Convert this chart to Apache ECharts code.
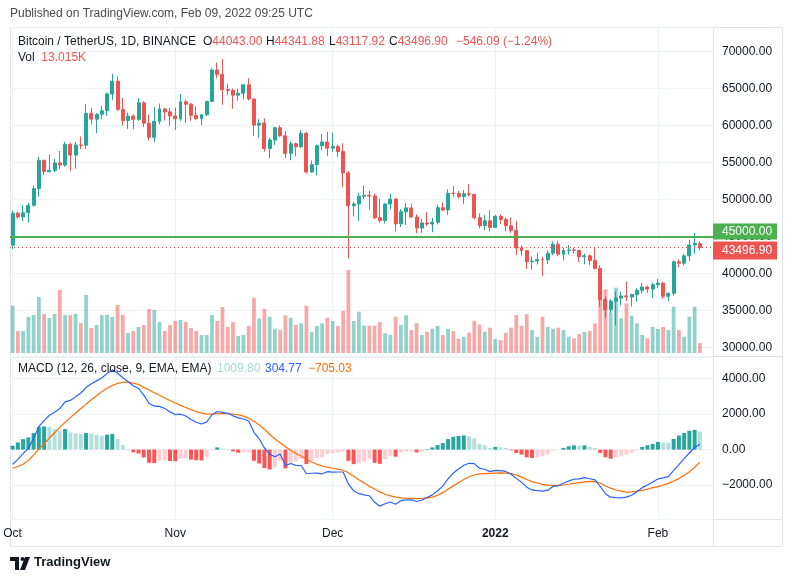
<!DOCTYPE html>
<html>
<head>
<meta charset="utf-8">
<title>Bitcoin / TetherUS 1D</title>
<script src="https://cdn.jsdelivr.net/npm/echarts@6/dist/echarts.min.js"></script>
<style>
  html, body { margin: 0; padding: 0; background: #fff; }
  #main { width: 793px; height: 582px; }
</style>
</head>
<body>
<div id="main"></div>
<script>
// daily candles, 2021-10-01 .. 2022-02-09 (132 days), two empty slots after
var slotCount = 134;
var monthLabels = { '2021-10-01': 'Oct', '2021-11-01': 'Nov', '2021-12-01': 'Dec', '2022-01-01': '2022', '2022-02-01': 'Feb' };

var opens = [
  43820,48141,47634,48200,49224,51471,55315,53785,53951,54949,54659,57471,56005,57367,57347,61672,60875,61528,62009,64280,66001,62193,60688,61286,60852,63078,60328,58413,60575,62253,61859,
  61299,60911,63219,62896,61395,60937,61470,63273,67525,66947,64882,64774,64122,64380,65519,63606,60058,60344,56891,58052,59707,58622,56247,57541,57138,58960,53726,54721,57274,57776,
  56950,57185,56484,53601,49152,49397,50441,50588,50471,47535,47140,49389,50053,46702,48336,48864,47632,46131,46834,46681,46914,48887,48588,50838,50820,50400,50775,50701,47543,46464,47120,
  46216,47722,47286,46446,45832,43451,43082,41566,41679,41864,41822,42736,43946,42592,43099,43177,43114,42250,42375,41744,40680,36445,35071,36244,36660,36958,36809,37160,37716,38166,37881,
  38466,38694,36896,37311,41571,41382,42380,43840,44043
];
var highs = [
  48495,48336,49228,49536,51887,55750,55332,56100,55489,56561,57839,57680,57777,58532,62933,62378,61718,62695,64486,67000,66639,63732,61747,61500,63710,63293,61496,62499,62980,62359,62405,
  62437,64270,63500,63086,62595,61560,63286,67789,68530,69000,65600,65000,64989,65550,66401,63617,60840,60976,58373,59845,60029,59266,57875,57700,59398,59150,55281,57445,58865,59176,
  59053,57375,57600,53859,49699,50891,51936,51200,50797,50125,49485,50777,50189,48700,49500,49436,47995,47392,48300,47537,49328,49576,51375,51810,51156,51280,52088,50704,48139,47900,48548,
  47954,47990,47570,47557,47070,43816,43145,42304,42786,42248,43100,44322,44459,43448,43800,43476,43179,42691,42579,43505,41100,36835,36499,37550,37545,38919,37234,38000,38720,38359,38744,
  39265,38855,37387,41772,41913,42656,44500,45492,44341.88
];
var lows = [
  43283,47430,47088,46891,49022,50382,53357,53617,53661,54080,54415,53879,54167,56818,56850,60150,58963,60880,61322,63481,62000,60000,59562,59510,60650,59817,58000,57820,60174,60673,59945,
  59405,60624,60382,60677,60721,60050,61322,63273,66382,62822,64100,62278,63360,63576,63400,58574,58373,56474,55600,57353,58486,55610,55317,55837,57000,53500,53610,53256,56666,55875,
  56458,55777,51680,42000,47727,47100,50039,48600,47320,46852,46751,48638,45672,46290,46547,47511,45456,45500,46406,45558,46630,48421,47920,50384,50142,49412,50449,47313,46096,45900,45678,
  46208,46654,45696,45500,42500,42430,40610,40501,41200,39650,41268,42450,42311,41726,42555,42691,41540,41250,41138,40553,35440,34008,34602,32917,35701,36234,35507,36155,37268,37351,36632,
  38000,36586,36250,37026,40843,41116,41645,42666,43117.92
];
var closes = [
  48141,47634,48200,49224,51471,55315,53785,53951,54949,54659,57471,56005,57367,57347,61672,60875,61528,62009,64280,66001,62193,60688,61286,60852,63078,60328,58413,60575,62253,61859,61299,
  60911,63219,62896,61395,60937,61470,63273,67525,66947,64882,64774,64122,64380,65519,63606,60058,60344,56891,58052,59707,58622,56247,57541,57138,58960,53726,54721,57274,57776,56950,
  57185,56481,53601,49152,49397,50441,50588,50471,47545,47140,49389,50053,46702,48343,48864,47632,46131,46834,46681,46914,48889,48588,50838,50820,50400,50775,50701,47543,46464,47120,46216,
  47722,47286,46446,45832,43451,43082,41566,41679,41864,41822,42736,43946,42592,43099,43177,43114,42250,42375,41744,40680,36445,35071,36244,36660,36958,36809,37160,37716,38166,37881,38466,
  38694,36896,37311,41574,41382,42380,43840,44043,43496.90
];
// volume, thousands of BTC
var volumes = [
  61.5,28.6,28.6,46.8,49.4,72.8,50.7,45.5,50.7,81.9,49.4,49.4,50.7,39.0,75.4,32.5,36.4,49.4,49.4,46.8,62.4,49.4,26.0,28.6,33.8,36.4,57.2,55.9,40.3,28.6,36.4,
  41.6,42.9,40.3,32.5,28.6,23.4,23.4,49.4,41.6,59.8,33.8,40.3,22.1,23.4,35.1,71.9,45.1,57.6,47.2,31.6,29.9,49.0,45.9,36.4,38.6,61.5,27.3,35.1,38.6,45.9,
  41.6,35.1,55.0,107.9,41.6,53.7,35.5,35.5,35.5,40.3,25.6,23.4,47.2,36.4,49.0,29.9,38.6,23.4,27.3,31.6,35.1,23.4,31.6,28.6,18.6,21.2,26.4,41.6,36.8,27.7,32.9,
  18.2,16.9,26.4,32.9,49.4,35.5,50.7,29.9,21.2,47.2,33.8,31.6,32.9,29.9,21.2,19.1,24.7,27.3,28.6,38.6,94.9,82.8,52.4,84.9,45.1,64.6,48.5,38.6,23.4,19.1,33.8,
  31.2,33.8,29.9,60.2,29.9,21.2,47.2,60.2,13.015
];
var macdLine = [
  -834,-546,-228,66,630,1300,1630,1930,2105,2310,2685,2768,2972,3184,3490,3700,3866,4030,4286,4484,4312,4044,3820,3590,3440,3060,2608,2440,2430,2310,2120,
  1970,1990,1890,1690,1540,1440,1560,1960,2144,2090,2040,1900,1785,1720,1610,970,610,90,-255,-405,-250,-900,-782,-885,-895,-1357,-1330,-1320,-1360,-1243,
  -1265,-1260,-1260,-1930,-2317,-2480,-2545,-2595,-2962,-3180,-3045,-2947,-3070,-2870,-2830,-2825,-2920,-2850,-2690,-2546,-2316,-2054,-1638,-1320,-1090,-880,-770,-790,-1051,-1106,-1241,
  -1170,-1179,-1226,-1388,-1618,-1832,-2112,-2270,-2312,-2336,-2282,-2071,-2035,-1896,-1762,-1665,-1645,-1580,-1640,-1706,-2068,-2482,-2677,-2702,-2716,-2672,-2568,-2368,-2140,-1986,
  -1821,-1648,-1590,-1520,-1169,-841,-511,-190,118,304.77
];
var signalLine = [
  -1050,-950,-820,-620,-300,30,330,650,950,1250,1530,1800,2060,2310,2560,2800,3030,3250,3450,3610,3720,3790,3790,3740,3660,3500,3350,3200,3060,2900,2760,
  2620,2490,2370,2250,2140,2050,2000,2000,2020,2030,2020,2000,1960,1880,1760,1600,1390,1130,860,600,380,160,-40,-220,-360,-540,-700,-820,-920,-990,
  -1050,-1110,-1160,-1300,-1500,-1700,-1880,-2060,-2220,-2380,-2510,-2600,-2670,-2710,-2730,-2745,-2760,-2750,-2720,-2670,-2570,-2420,-2230,-2040,-1860,-1680,-1530,-1430,-1370,-1350,-1335,
  -1320,-1310,-1320,-1350,-1430,-1550,-1680,-1800,-1880,-1960,-2000,-2015,-2015,-1990,-1950,-1900,-1860,-1820,-1790,-1800,-1880,-2050,-2170,-2270,-2340,-2390,-2380,-2330,-2290,-2230,
  -2140,-2080,-1990,-1900,-1770,-1630,-1450,-1250,-990,-705.03
];
var histogram = [
  216,404,592,686,930,1270,1300,1280,1155,1060,1155,968,912,874,930,900,836,780,836,874,592,254,30,-150,-220,-440,-742,-760,-630,-590,-640,
  -650,-500,-480,-560,-600,-610,-440,-40,124,60,20,-100,-175,-160,-150,-630,-780,-1040,-1115,-1005,-630,-1060,-742,-665,-535,-817,-630,-500,-440,-253,
  -215,-150,-100,-630,-817,-780,-665,-535,-742,-800,-535,-347,-400,-160,-100,-80,-160,-100,30,124,254,366,592,720,770,800,760,640,319,244,94,
  150,131,94,-38,-188,-282,-432,-470,-432,-376,-282,-56,-20,94,188,235,215,240,150,94,-188,-432,-507,-432,-376,-282,-188,-38,150,244,
  319,432,400,380,601,789,939,1060,1108,1009.80
];
var levelLine = 45000;
var lastPrice = 43496.90;

var UP = '#26a69a', DOWN = '#ef5350';
var FONT = '"Liberation Sans", Arial, sans-serif';
var TXT = '#131722';

var dates = [];
var t0 = Date.UTC(2021, 9, 1);
for (var i = 0; i < slotCount; i++) {
  dates.push(new Date(t0 + i * 86400000).toISOString().slice(0, 10));
}

var candleData = [];
var volData = [];
for (var i = 0; i < closes.length; i++) {
  candleData.push([opens[i], closes[i], lows[i], highs[i]]);
  volData.push({
    value: volumes[i],
    itemStyle: { color: closes[i] >= opens[i] ? 'rgba(38,166,154,0.5)' : 'rgba(239,83,80,0.5)' }
  });
}

// tradingview style histogram colours
var histData = histogram.map(function (h, i) {
  var prev = i > 0 ? histogram[i - 1] : -Infinity;
  var c;
  if (h >= 0) c = prev < h ? '#26a69a' : '#b2dfdb';
  else c = prev < h ? '#ffcdd2' : '#ff5252';
  return { value: h, itemStyle: { color: c } };
});

var monthLines = Object.keys(monthLabels).map(function (d) {
  return { xAxis: d };
});

function fmt2(v) {
  return (v < 0 ? '\u2212' : '') + Math.abs(v).toFixed(2);
}

function catAxis(gi, labels) {
  return {
    type: 'category', gridIndex: gi, data: dates, boundaryGap: true,
    axisLine: { show: false }, axisTick: { show: false }, splitLine: { show: false },
    axisLabel: labels ? {
      show: true, margin: 9, color: TXT, fontSize: 12, fontFamily: FONT,
      interval: function (idx, val) { return monthLabels[val] !== undefined; },
      formatter: function (val) {
        var t = monthLabels[val];
        return t === '2022' ? '{b|2022}' : t;
      },
      rich: { b: { fontWeight: 'bold', fontSize: 12, color: TXT, fontFamily: FONT } }
    } : { show: false }
  };
}

var chart = echarts.init(document.getElementById('main'), null, { renderer: 'canvas' });

var frame = '#e0e3eb';
var option = {
  animation: false,
  backgroundColor: '#ffffff',
  grid: [
    { left: 10, right: 80, top: 27, height: 329 },
    { left: 10, right: 80, top: 27, height: 326 },
    { left: 10, right: 80, top: 357, height: 162 }
  ],
  xAxis: [catAxis(0, false), catAxis(1, false), catAxis(2, true)],
  yAxis: [
    {
      type: 'value', gridIndex: 0, position: 'right', min: 28823, max: 73342,
      minInterval: 5000, maxInterval: 5000,
      axisLine: { show: false }, axisTick: { show: false },
      splitLine: { lineStyle: { color: '#eef1f6', width: 1 } },
      axisLabel: {
        margin: 9, color: TXT, fontSize: 12, fontFamily: FONT,
        formatter: function (v) { return v % 5000 === 0 ? fmt2(v) : ''; }
      }
    },
    { type: 'value', gridIndex: 1, min: 0, max: 423.8, show: false, splitLine: { show: false } },
    {
      type: 'value', gridIndex: 2, position: 'right', min: -3903, max: 5208,
      minInterval: 2000, maxInterval: 2000,
      axisLine: { show: false }, axisTick: { show: false },
      splitLine: { lineStyle: { color: '#eef1f6', width: 1 } },
      axisLabel: {
        margin: 9, color: TXT, fontSize: 12, fontFamily: FONT,
        formatter: function (v) { return v % 2000 === 0 ? fmt2(v) : ''; }
      }
    }
  ],
  series: [
    {
      name: 'Vol', type: 'bar', xAxisIndex: 1, yAxisIndex: 1, data: volData,
      barWidth: '72%', z: 2,
      markLine: {
        silent: true, symbol: ['none', 'none'], z: 1, animation: false,
        label: { show: false },
        lineStyle: { color: '#eef1f6', width: 1, type: 'solid' },
        data: monthLines
      }
    },
    {
      name: 'BTCUSDT', type: 'candlestick', xAxisIndex: 0, yAxisIndex: 0, data: candleData,
      barWidth: '66%', z: 3,
      itemStyle: { color: UP, color0: DOWN, borderColor: UP, borderColor0: DOWN, borderWidth: 1 },
      markLine: {
        silent: true, symbol: ['none', 'none'], z: 6, animation: false,
        data: [
          {
            yAxis: levelLine,
            lineStyle: { color: '#4caf50', width: 2, type: 'solid' },
            label: {
              show: true, position: 'end', distance: 0, offset: [0, -5],
              formatter: fmt2(levelLine), color: '#fff', backgroundColor: '#4caf50',
              padding: [2, 5, 2, 9], fontSize: 12, fontFamily: FONT
            }
          },
          {
            yAxis: lastPrice,
            lineStyle: { color: '#ef5350', width: 1, type: [1, 3] },
            label: {
              show: true, position: 'end', distance: 0, offset: [0, 3],
              formatter: fmt2(lastPrice), color: '#fff', backgroundColor: '#ef5350',
              padding: [3, 5, 3, 9], fontSize: 12, fontFamily: FONT
            }
          }
        ]
      }
    },
    {
      name: 'Histogram', type: 'bar', xAxisIndex: 2, yAxisIndex: 2, data: histData,
      barWidth: '76%', z: 2,
      markLine: {
        silent: true, symbol: ['none', 'none'], z: 1, animation: false,
        label: { show: false },
        lineStyle: { color: '#eef1f6', width: 1, type: 'solid' },
        data: monthLines
      }
    },
    {
      name: 'MACD', type: 'line', xAxisIndex: 2, yAxisIndex: 2, data: macdLine,
      showSymbol: false, lineStyle: { color: '#2962ff', width: 1.2 }, z: 4
    },
    {
      name: 'Signal', type: 'line', xAxisIndex: 2, yAxisIndex: 2, data: signalLine,
      showSymbol: false, lineStyle: { color: '#ff6d00', width: 1.2 }, z: 3
    }
  ],
  graphic: [
    { type: 'text', left: 10, top: 8, style: { text: 'Published on TradingView.com, Feb 09, 2022 09:25 UTC', fill: '#4a4a4a', font: '12px ' + FONT } },
    // frame
    { type: 'line', shape: { x1: 10, y1: 27.5, x2: 783, y2: 27.5 }, style: { stroke: frame, lineWidth: 1 } },
    { type: 'line', shape: { x1: 10.5, y1: 27, x2: 10.5, y2: 547 }, style: { stroke: frame, lineWidth: 1 } },
    { type: 'line', shape: { x1: 782.5, y1: 27, x2: 782.5, y2: 547 }, style: { stroke: frame, lineWidth: 1 } },
    { type: 'line', shape: { x1: 10, y1: 546.5, x2: 783, y2: 546.5 }, style: { stroke: frame, lineWidth: 1 } },
    { type: 'line', shape: { x1: 713.5, y1: 27, x2: 713.5, y2: 547 }, style: { stroke: frame, lineWidth: 1 } },
    { type: 'line', shape: { x1: 10, y1: 356.5, x2: 783, y2: 356.5 }, style: { stroke: '#d9dce3', lineWidth: 1 } },
    { type: 'line', shape: { x1: 10, y1: 519.5, x2: 783, y2: 519.5 }, style: { stroke: frame, lineWidth: 1 } },
    // legends
    {
      type: 'text', left: 18, top: 36, z: 10,
      style: {
        text: 'Bitcoin / TetherUS, 1D, BINANCE', fill: TXT, font: '12px ' + FONT
      }
    },
    { type: 'text', left: 203, top: 36, z: 10, style: { text: '{k|O}{v|44043.00}', rich: { k: { fill: TXT, font: '12px ' + FONT }, v: { fill: DOWN, font: '12px ' + FONT } } } },
    { type: 'text', left: 266, top: 36, z: 10, style: { text: '{k|H}{v|44341.88}', rich: { k: { fill: TXT, font: '12px ' + FONT }, v: { fill: DOWN, font: '12px ' + FONT } } } },
    { type: 'text', left: 329, top: 36, z: 10, style: { text: '{k|L}{v|43117.92}', rich: { k: { fill: TXT, font: '12px ' + FONT }, v: { fill: DOWN, font: '12px ' + FONT } } } },
    { type: 'text', left: 389, top: 36, z: 10, style: { text: '{k|C}{v|43496.90}', rich: { k: { fill: TXT, font: '12px ' + FONT }, v: { fill: DOWN, font: '12px ' + FONT } } } },
    { type: 'text', left: 456, top: 36, z: 10, style: { text: '\u2212546.09 (\u22121.24%)', fill: DOWN, font: '12px ' + FONT } },
    { type: 'text', left: 18, top: 52, z: 10, style: { text: '{k|Vol}  {v|13.015K}', rich: { k: { fill: TXT, font: '12px ' + FONT }, v: { fill: DOWN, font: '12px ' + FONT } } } },
    { type: 'text', left: 18, top: 363, z: 10, style: { text: 'MACD (12, 26, close, 9, EMA, EMA)', fill: TXT, font: '12px ' + FONT } },
    { type: 'text', left: 217, top: 363, z: 10, style: { text: '1009.80', fill: '#a8d9d2', font: '12px ' + FONT } },
    { type: 'text', left: 265, top: 363, z: 10, style: { text: '304.77', fill: '#2962ff', font: '12px ' + FONT } },
    { type: 'text', left: 308, top: 363, z: 10, style: { text: '\u2212705.03', fill: '#ff6d00', font: '12px ' + FONT } },
    // TradingView logo
    { type: 'polygon', shape: { points: [[10, 557], [19, 557], [19, 570], [15, 570], [15, 561], [10, 561]] }, style: { fill: TXT } },
    { type: 'circle', shape: { cx: 22.5, cy: 559, r: 2 }, style: { fill: TXT } },
    { type: 'polygon', shape: { points: [[25, 557], [30, 557], [25, 570], [20, 570]] }, style: { fill: TXT } },
    { type: 'text', left: 34, top: 556, style: { text: 'TradingView', fill: TXT, font: '600 13px ' + FONT } }
  ]
};

chart.setOption(option);
</script>
</body>
</html>
